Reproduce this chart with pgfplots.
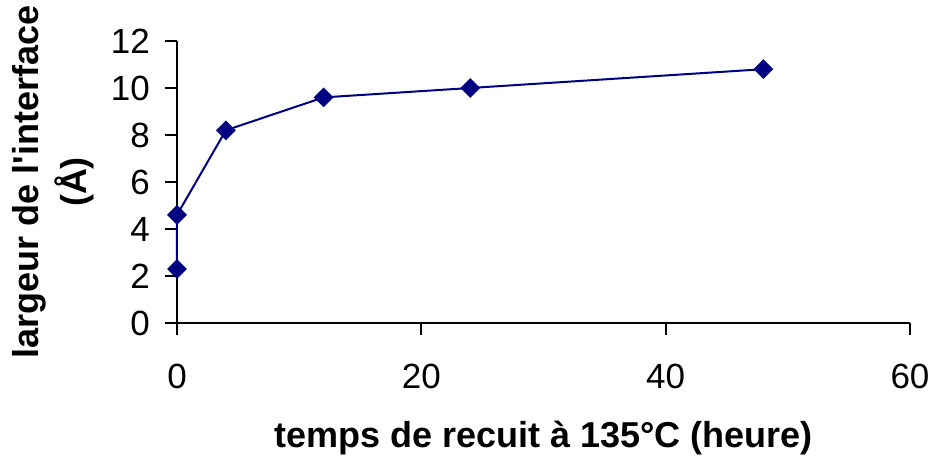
\documentclass[border=0pt]{standalone}
\usepackage{fontspec}
\setmainfont{Liberation Sans}
\usepackage{pgfplots}
\pgfplotsset{compat=1.18}
\definecolor{navy}{RGB}{0,0,128}
\begin{document}
\begin{tikzpicture}
\path[use as bounding box] (-88.5pt,-68pt) rectangle (378pt,161.5pt);
\begin{axis}[
  at={(0,0)}, anchor=south west,
  scale only axis,
  width=366.5pt, height=141pt,
  xmin=0, xmax=60, ymin=0, ymax=12,
  xtick={0,20,40,60}, ytick={0,2,...,12},
  axis lines*=left,
  tick align=outside,
  major tick length=6pt,
  axis line style={line width=1pt},
  every tick/.style={black, line width=1pt},
  /pgf/number format/assume math mode=true,
  tick label style={font=\fontsize{17.5}{20}\selectfont},
  xticklabel style={yshift=-11pt},
  yticklabel style={xshift=-4pt},
  xlabel={temps de recuit à 135°C (heure)},
  ylabel={largeur de l\textquotesingle interface\\(Å)},
  label style={font=\bfseries\fontsize{18}{24}\selectfont},
  xlabel style={at={(axis description cs:0.5,0)}, anchor=center, yshift=-57.5pt},
  ylabel style={align=center, at={(axis description cs:0,0.5)}, anchor=center, rotate=0, yshift=62pt},
  clip=false,
]
\addplot[navy, line width=1pt, mark=square*, mark size=3pt,
  mark options={rotate=45, fill=navy, draw=navy}]
  coordinates {(0,2.3) (0,4.6) (4,8.2) (12,9.6) (24,10.0) (48,10.8)};
\end{axis}
\end{tikzpicture}
\end{document}
